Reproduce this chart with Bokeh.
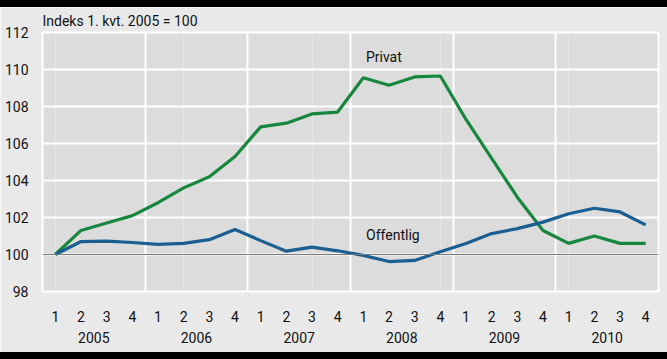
from bokeh.plotting import figure
from bokeh.models import FixedTicker, LinearAxis, Span, Range1d, Title, Grid, Div
from bokeh.layouts import column
from bokeh.core.properties import value
from bokeh.embed import file_html
from bokeh.resources import INLINE

quarters = ["1", "2", "3", "4"] * 6
years = ["2005", "2006", "2007", "2008", "2009", "2010"]
privat = [100.0, 101.3, 101.7, 102.1, 102.8, 103.6, 104.2, 105.3,
          106.9, 107.1, 107.6, 107.7, 109.55, 109.15, 109.6, 109.65,
          107.3, 105.2, 103.1, 101.3, 100.6, 101.0, 100.6, 100.6]
offentlig = [100.0, 100.7, 100.72, 100.65, 100.55, 100.6, 100.8, 101.35,
             100.75, 100.18, 100.4, 100.2, 99.95, 99.62, 99.68, 100.15,
             100.6, 101.13, 101.4, 101.75, 102.2, 102.5, 102.3, 101.6]
y_ticks = [98, 100, 102, 104, 106, 108, 110, 112]
title_text = "Indeks 1. kvt. 2005 = 100"

FONT = "Roboto"
FS = "14px"
TXT = "#111111"
x = list(range(len(quarters)))

p = figure(width=667, height=345, output_backend="svg", toolbar_location=None,
           x_range=Range1d(-0.5, 23.5), y_range=Range1d(98, 112),
           min_border_left=42, min_border_right=9, min_border_top=23,
           min_border_bottom=61, x_axis_location=None, y_axis_location=None,
           margin=0)
p.background_fill_color = "#dcdcdc"
p.border_fill_color = "#e9e9e9"
p.outline_line_color = "white"
p.outline_line_width = 2

t = Title(text=title_text, align="left", text_font=FONT, text_font_size=FS,
          text_font_style="normal", text_color=TXT, standoff=7)
p.add_layout(t, "above")

def style_axis(ax, standoff):
    ax.axis_line_color = None
    ax.major_tick_line_color = None
    ax.minor_tick_line_color = None
    ax.major_tick_out = 0
    ax.major_tick_in = 0
    ax.minor_tick_out = 0
    ax.minor_tick_in = 0
    ax.major_label_standoff = standoff
    ax.major_label_text_font = FONT
    ax.major_label_text_font_size = FS
    ax.major_label_text_color = TXT

yax = LinearAxis(ticker=FixedTicker(ticks=y_ticks))
style_axis(yax, 14)
p.add_layout(yax, "left")

qax = LinearAxis(ticker=FixedTicker(ticks=x))
qax.major_label_overrides = {i: q for i, q in enumerate(quarters)}
style_axis(qax, 19)
p.add_layout(qax, "below")

year_pos = [1.5 + 4 * i for i in range(len(years))]
yrax = LinearAxis(ticker=FixedTicker(ticks=year_pos))
yrax.major_label_overrides = {pos: yr for pos, yr in zip(year_pos, years)}
style_axis(yrax, 7)
p.add_layout(yrax, "below")

p.add_layout(Grid(dimension=1, ticker=FixedTicker(ticks=y_ticks),
                  grid_line_color="white", grid_line_width=2))
p.add_layout(Grid(dimension=0, ticker=FixedTicker(ticks=[3.5, 7.5, 11.5, 15.5, 19.5]),
                  grid_line_color="white", grid_line_width=2))

p.add_layout(Span(location=100, dimension="width", line_color="#7a7a7a", line_width=1))

p.line(x, privat, line_color="#17873f", line_width=3.2)
p.line(x, offentlig, line_color="#1a5e92", line_width=3.2)

p.text(x=[12.8], y=[110.7], text=["Privat"], text_align="center", text_baseline="middle",
       text_font=value(FONT), text_font_size=FS, text_color=TXT)
p.text(x=[13.15], y=[101.07], text=["Offentlig"], text_align="center", text_baseline="middle",
       text_font=value(FONT), text_font_size=FS, text_color=TXT)

top_bar = Div(width=667, height=7, margin=0, styles={"background-color": "black"})
bottom_bar = Div(width=667, height=7, margin=0, styles={"background-color": "black"})
layout = column(top_bar, p, bottom_bar, spacing=0, margin=0)

open("out.html", "w").write(file_html(layout, INLINE))
